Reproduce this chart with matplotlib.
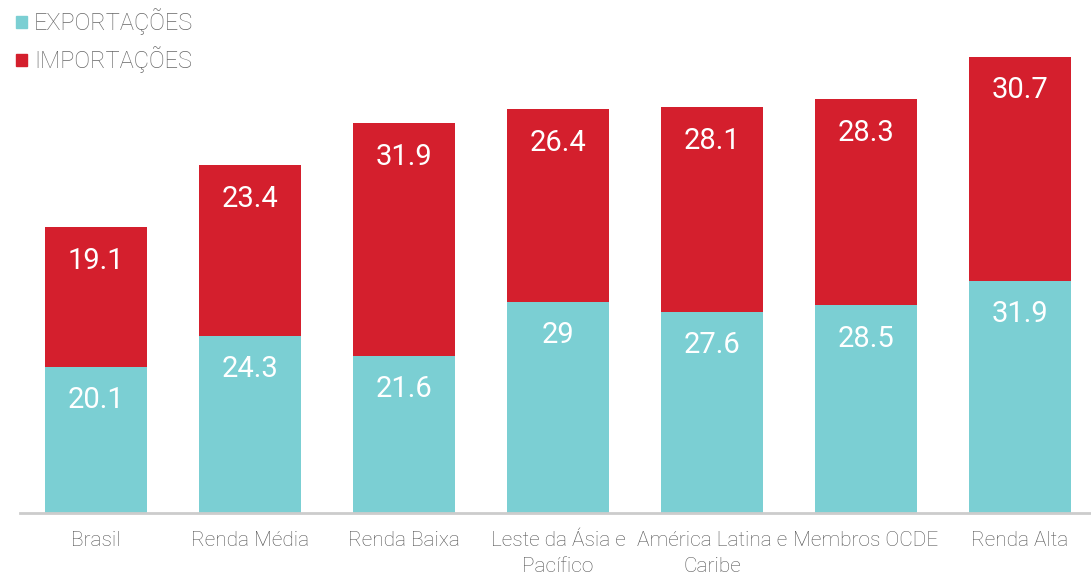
import matplotlib
matplotlib.use('Agg')
from matplotlib import pyplot as plt
from matplotlib.patches import Rectangle
import numpy as np

plt.rcParams['font.family'] = ['Roboto', 'DejaVu Sans']

categories = ['Brasil', 'Renda Média', 'Renda Baixa', 'Leste da Ásia e\nPacífico',
              'América Latina e\nCaribe', 'Membros OCDE', 'Renda Alta']
exportacoes = [20.1, 24.3, 21.6, 29, 27.6, 28.5, 31.9]
importacoes = [19.1, 23.4, 31.9, 26.4, 28.1, 28.3, 30.7]

teal = '#7bcfd3'
red = '#d41f2d'

fig = plt.figure(figsize=(10.91, 5.72), dpi=100)
ax = fig.add_axes([20 / 1091, 59 / 572, 1 - 20 / 1091, 513 / 572])

x = np.arange(len(categories))
ax.bar(x, exportacoes, width=0.66, color=teal)
ax.bar(x, importacoes, width=0.66, bottom=exportacoes, color=red)

# value labels near the top of each segment
for i in range(len(categories)):
    ax.text(x[i], exportacoes[i] - 4.6, f'{exportacoes[i]:g}', ha='center', va='center',
            color='white', fontsize=21)
    top = exportacoes[i] + importacoes[i]
    ax.text(x[i], top - 4.6, f'{importacoes[i]:g}', ha='center', va='center',
            color='white', fontsize=21)

ax.set_xlim(-0.494, 6.461)
ax.set_ylim(0, 70.4)
ax.set_xticks(x)
ax.set_xticklabels(categories, fontsize=15, color='#555555', fontweight='light',
                   linespacing=1.45)
ax.tick_params(axis='x', length=0, pad=13)
ax.set_yticks([])
for side in ['top', 'right', 'left']:
    ax.spines[side].set_visible(False)
ax.spines['bottom'].set_color('#cccccc')
ax.spines['bottom'].set_linewidth(2)

# legend at the top-left corner
for k, (label, col) in enumerate([('EXPORTAÇÕES', teal), ('IMPORTAÇÕES', red)]):
    yc = 1 - (22 + 38 * k) / 572
    fig.patches.append(Rectangle((16 / 1091, yc - 5.5 / 572), 11 / 1091, 11 / 572,
                                 transform=fig.transFigure, color=col))
    fig.text(34 / 1091, yc, label, ha='left', va='center', fontsize=17,
             color='#666666', fontweight='light')

fig.savefig('out.png', dpi=100)
